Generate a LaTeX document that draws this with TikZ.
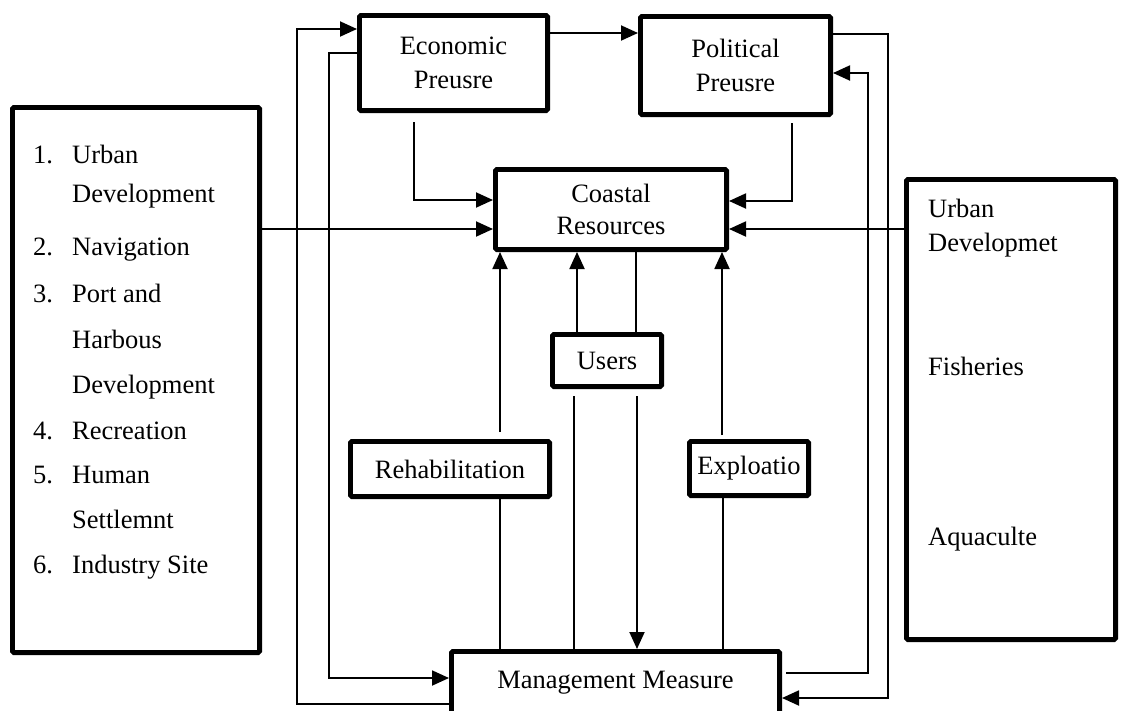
\documentclass[tikz,border=0pt]{standalone}
\usepackage{fontspec}
\setmainfont{Liberation Serif}
\usetikzlibrary{arrows.meta}
\begin{document}
\begin{tikzpicture}[x=1pt,y=-1pt,
  box/.style={draw, line width=4.8pt, inner sep=0pt, rounded corners=1.5pt, align=center,
    font=\fontsize{26.5}{34}\selectfont},
  conn/.style={line width=1.9pt},
  arr/.style={conn, -{Triangle[length=17pt,width=15pt]}},
  txt/.style={anchor=base west, inner sep=0pt, font=\fontsize{26.5}{34}\selectfont}]
\useasboundingbox (0,0) rectangle (1121,710);
% boxes
\node[box, minimum width=188.2, minimum height=95.2] (econ) at (453.5,63) {Economic\\Preusre};
\node[box, minimum width=190.2, minimum height=98.2] (pol) at (735.5,65.5) {Political\\Preusre};
\node[box, minimum width=231.2, minimum height=80.2, font=\fontsize{26.5}{32}\selectfont] (coast) at (611,209.5) {Coastal\\Resources};
\node[box, minimum width=109.2, minimum height=52.2] (users) at (607,360.5) {Users};
\node[box, minimum width=199.2, minimum height=55.2] (rehab) at (450,469) {Rehabilitation};
\node[box, minimum width=119.2, minimum height=54.2] (explo) at (749,468.5) {Exploatio};
\node[box, minimum width=328.2, minimum height=62.2] (mgmt) at (615.5,682.5) {Management Measure};
\node[box, minimum width=247.2, minimum height=545.2] (left) at (136,380) {};
\node[box, minimum width=209.2, minimum height=460.2] (right) at (1011,409.5) {};
% left list
\node[txt] (n1) at (33,163) {1.};
\node[txt] (t1) at (72,163) {Urban};
\node[txt] (t1b) at (72,202) {Development};
\node[txt] (n2) at (33,255) {2.};
\node[txt] (t2) at (72,255) {Navigation};
\node[txt] (n3) at (33,302) {3.};
\node[txt] (t3) at (72,302) {Port and};
\node[txt] (t3b) at (72,348) {Harbous};
\node[txt] (t3c) at (72,393) {Development};
\node[txt] (n4) at (33,439) {4.};
\node[txt] (t4) at (72,439) {Recreation};
\node[txt] (n5) at (33,483) {5.};
\node[txt] (t5) at (72,483) {Human};
\node[txt] (t5b) at (72,528) {Settlemnt};
\node[txt] (n6) at (33,573) {6.};
\node[txt] (t6) at (72,573) {Industry Site};
% right list
\node[txt] (r1) at (928,217) {Urban};
\node[txt] (r1b) at (928,251) {Developmet};
\node[txt] (r2) at (928,375) {Fisheries};
\node[txt] (r3) at (928,545) {Aquaculte};
% free ends
\coordinate (e1) at (414,122);
\coordinate (p1) at (792,123);
\coordinate (rh1) at (500,432);
\coordinate (ex1) at (722,435);
\coordinate (u1) at (574,396);
\coordinate (u2) at (637,396);
\coordinate (m1) at (786,673);
% connectors
\draw[arr] (econ.east |- 0,33) -- (pol.west |- 0,33);
\draw[arr] (e1) |- (coast.west |- 0,200);
\draw[arr] (p1) |- (coast.east |- 0,201);
\draw[arr] (left.east |- 0,229) -- (coast.west |- 0,229);
\draw[arr] (right.west |- 0,229) -- (coast.east |- 0,229);
\draw[arr] (rh1) -- (coast.south -| rh1);
\draw[arr] (users.north -| 577,0) -- (coast.south -| 577,0);
\draw[conn] (coast.south -| 636,0) -- (users.north -| 636,0);
\draw[arr] (ex1) -- (coast.south -| ex1);
\draw[conn] (rehab.south -| 500,0) -- (mgmt.north -| 500,0);
\draw[conn] (u1) -- (mgmt.north -| u1);
\draw[arr] (u2) -- (mgmt.north -| u2);
\draw[conn] (explo.south -| 723,0) -- (mgmt.north -| 723,0);
\draw[arr] (m1) -- (868,673) |- (pol.east |- 0,73);
\draw[arr] (pol.east |- 0,34) -- (888,34) |- (mgmt.east |- 0,698);
\draw[arr] (mgmt.west |- 0,704) -- (297,704) |- (econ.west |- 0,29);
\draw[arr] (econ.west |- 0,53) -- (329,53) |- (mgmt.west |- 0,678);
\end{tikzpicture}
\end{document}
